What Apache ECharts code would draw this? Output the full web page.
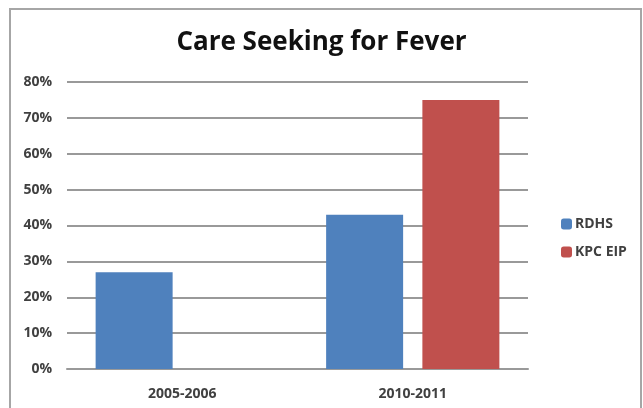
<!DOCTYPE html>
<html>
<head>
<meta charset="utf-8">
<script src="https://cdn.jsdelivr.net/npm/echarts@6/dist/echarts.min.js"></script>
<style>
  html, body { margin: 0; padding: 0; background: #fff; }
  #main { width: 643px; height: 408px; }
</style>
</head>
<body>
<div id="main"></div>
<script>
// data
const categories = ['2005-2006', '2010-2011'];
const rdhs = [27, 43];
const kpcEip = [null, 75];
const yTicks = [0, 10, 20, 30, 40, 50, 60, 70, 80];

const labelFont = { fontFamily: 'Open Sans', fontSize: 14, fontWeight: 'bold', color: '#404040' };

const option = {
  animation: false,
  backgroundColor: '#fff',
  title: {
    text: 'Care Seeking for Fever',
    left: 'center',
    top: 25,
    textStyle: { fontFamily: 'Open Sans', fontSize: 26, fontWeight: 'bold', color: '#111' },
  },
  grid: { left: 67, right: 115, top: 82, bottom: 39 },
  legend: {
    orient: 'vertical',
    left: 556,
    top: 212,
    itemWidth: 11,
    itemHeight: 11,
    itemGap: 14,
    textStyle: Object.assign({}, labelFont, { padding: [0, 0, 0, -2] }),
    data: ['RDHS', 'KPC EIP'],
  },
  xAxis: {
    type: 'category',
    data: categories,
    axisLine: { lineStyle: { color: '#999', width: 2 } },
    axisTick: { show: false },
    axisLabel: Object.assign({}, labelFont, { margin: 18 }),
  },
  yAxis: {
    type: 'value',
    min: yTicks[0],
    max: yTicks[yTicks.length - 1],
    interval: 10,
    axisLine: { show: false },
    axisTick: { show: false },
    splitLine: { lineStyle: { color: '#999', width: 2 } },
    axisLabel: Object.assign({}, labelFont, { margin: 15, formatter: '{value}%' }),
  },
  series: [
    {
      name: 'RDHS',
      type: 'bar',
      data: rdhs,
      barWidth: 77,
      barGap: '25%',
      itemStyle: { color: '#4f81bd' },
    },
    {
      name: 'KPC EIP',
      type: 'bar',
      data: kpcEip,
      barWidth: 77,
      itemStyle: { color: '#c0504d' },
    },
  ],
  graphic: [
    {
      type: 'rect',
      shape: { x: 10, y: 9, width: 631, height: 430 },
      style: { fill: 'none', stroke: '#a6a6a6', lineWidth: 2 },
      silent: true,
    },
  ],
};

const myChart = echarts.init(document.getElementById('main'));
myChart.setOption(option);
</script>
</body>
</html>
